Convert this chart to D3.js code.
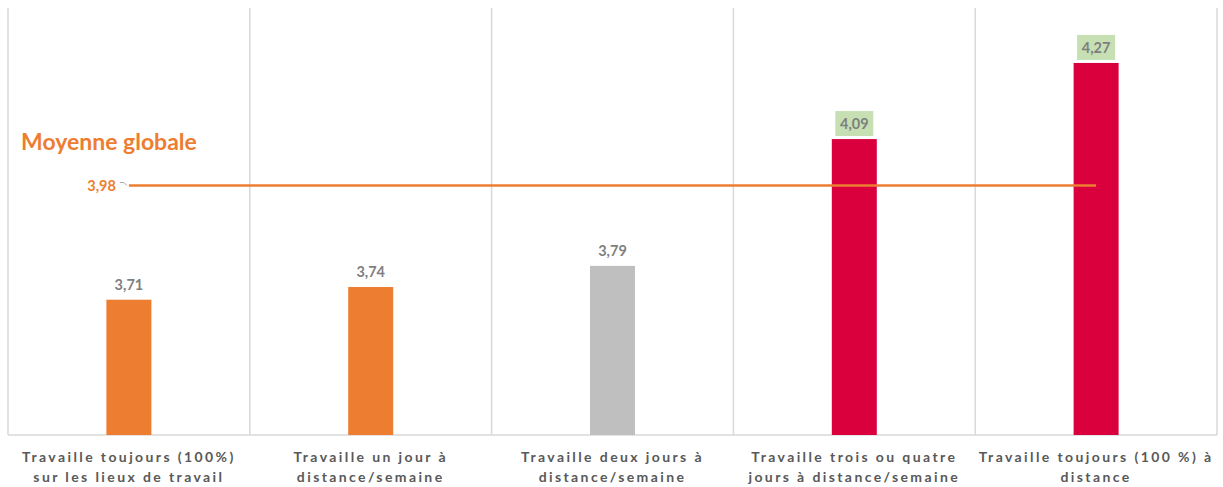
<!DOCTYPE html>
<html lang="fr">
  <head>
    <meta charset="UTF-8" />
    <title>Moyenne par mode de travail</title>
    <script src="https://d3js.org/d3.v7.min.js"></script>
    <style>
      body { margin: 0; background: #fff; }
      text { font-family: Lato, "Open Sans", sans-serif; }
    </style>
  </head>
  <body>
    <div id="chart"></div>
    <script>
      // data
      const categories = [
        ["Travaille toujours (100%)", "sur les lieux de travail"],
        ["Travaille un jour à", "distance/semaine"],
        ["Travaille deux jours à", "distance/semaine"],
        ["Travaille trois ou quatre", "jours à distance/semaine"],
        ["Travaille toujours (100 %) à", "distance"],
      ];
      const values = [3.71, 3.74, 3.79, 4.09, 4.27];
      const barColors = ["#ED7D31", "#ED7D31", "#BFBFBF", "#DA003D", "#DA003D"];
      const highlighted = [false, false, false, true, true];
      const average = 3.98;
      const averageLabel = "Moyenne globale";

      const fmt = (v) => d3.format(".2f")(v).replace(".", ",");

      // dimensions
      const W = 1223, H = 487;
      const margin = { top: 8, right: 6, bottom: 52, left: 8 };
      const width = W - margin.left - margin.right,
        height = H - margin.top - margin.bottom;

      const svg = d3
        .select("#chart")
        .append("svg")
        .attr("width", W)
        .attr("height", H)
        .append("g")
        .attr("transform", "translate(" + margin.left + "," + margin.top + ")");

      const x = d3.scaleBand().range([0, width]).domain(d3.range(categories.length));
      const y = d3.scaleLinear().range([height, 0]).domain([3.39, 4.4]);

      // vertical separators
      const seps = d3.range(categories.length + 1).map((i) => i * x.step());
      svg
        .selectAll(".sep")
        .data(seps)
        .enter()
        .append("line")
        .attr("x1", (d) => d)
        .attr("x2", (d) => d)
        .attr("y1", 0)
        .attr("y2", height)
        .attr("stroke", "#D9D9D9")
        .attr("stroke-width", 1.5);

      // baseline
      svg
        .append("line")
        .attr("x1", 0)
        .attr("x2", width)
        .attr("y1", height)
        .attr("y2", height)
        .attr("stroke", "#D9D9D9")
        .attr("stroke-width", 1.5);

      const barW = 45;
      const cx = (i) => x(i) + x.bandwidth() / 2;

      svg
        .selectAll(".bar")
        .data(values)
        .enter()
        .append("rect")
        .attr("x", (d, i) => cx(i) - barW / 2)
        .attr("y", (d) => y(d))
        .attr("width", barW)
        .attr("height", (d) => height - y(d))
        .attr("fill", (d, i) => barColors[i]);

      // value labels
      values.forEach((v, i) => {
        const g = svg.append("g").attr("transform", `translate(${cx(i)},${y(v)})`);
        if (highlighted[i]) {
          g.append("rect")
            .attr("x", -19)
            .attr("y", -28)
            .attr("width", 38)
            .attr("height", 25)
            .attr("fill", "#C6E0B4");
        }
        g.append("text")
          .attr("text-anchor", "middle")
          .attr("y", -10)
          .attr("font-size", 14.5)
          .attr("font-weight", "bold")
          .attr("fill", "#7F7F7F")
          .text(fmt(v));
      });

      // average line
      const ya = y(average);
      svg
        .append("line")
        .attr("x1", cx(0))
        .attr("x2", cx(values.length - 1))
        .attr("y1", ya)
        .attr("y2", ya)
        .attr("stroke", "#ED7D31")
        .attr("stroke-width", 2.5);
      svg
        .append("path")
        .attr("d", `M${cx(0) - 9},${ya - 3} H${cx(0) - 5} L${cx(0) - 2},${ya}`)
        .attr("fill", "none")
        .attr("stroke", "#A6A6A6")
        .attr("stroke-width", 1);
      svg
        .append("text")
        .attr("x", cx(0) - 13)
        .attr("y", ya + 5)
        .attr("text-anchor", "end")
        .attr("font-size", 14.5)
        .attr("font-weight", "bold")
        .attr("fill", "#ED7D31")
        .text(fmt(average));
      svg
        .append("text")
        .attr("x", 13)
        .attr("y", ya - 36)
        .attr("font-size", 23)
        .attr("font-weight", "bold")
        .attr("fill", "#ED7D31")
        .text(averageLabel);

      // category labels
      categories.forEach((lines, i) => {
        const t = svg
          .append("text")
          .attr("text-anchor", "middle")
          .attr("font-size", 14)
          .attr("font-weight", "bold")
          .attr("letter-spacing", "2.4px")
          .attr("fill", "#595959");
        lines.forEach((l, j) => {
          t.append("tspan")
            .attr("x", cx(i))
            .attr("y", height + 27 + j * 20)
            .text(l);
        });
      });
    </script>
  </body>
</html>
